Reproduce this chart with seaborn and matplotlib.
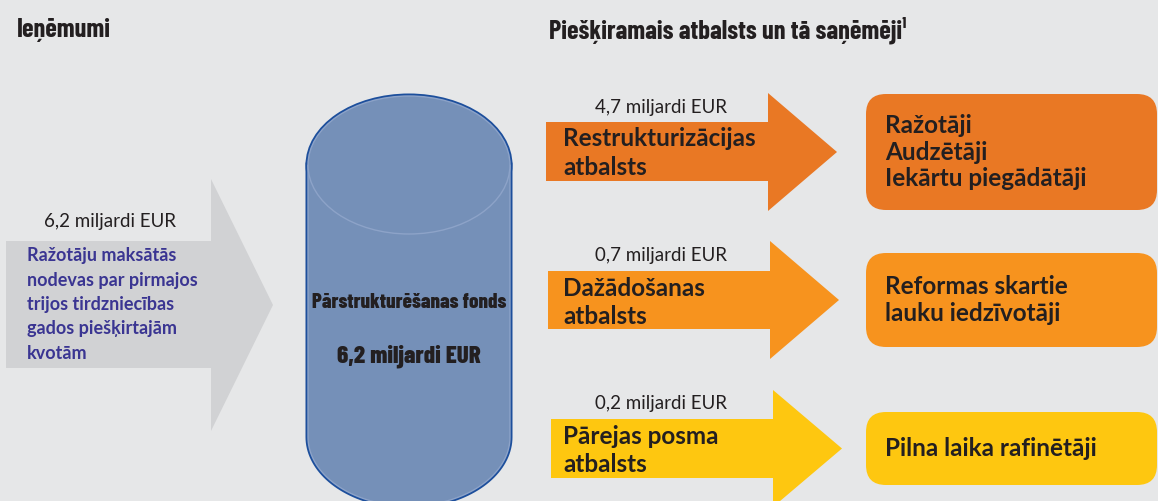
import matplotlib
matplotlib.use("Agg")
import matplotlib.pyplot as plt
import seaborn as sns
import numpy as np
from matplotlib.patches import Polygon, Ellipse, FancyBboxPatch

# Data
income_amount = 6.2
fund_amount = 6.2
income_lines = ["Ražotāju maksātās", "nodevas par pirmajos", "trijos tirdzniecības",
                "gados piešķirtajām", "kvotām"]
support_names = [["Restrukturizācijas", "atbalsts"],
                 ["Dažādošanas", "atbalsts"],
                 ["Pārejas posma", "atbalsts"]]
support_amounts = [4.7, 0.7, 0.2]
recipients = [["Ražotāji", "Audzētāji", "Iekārtu piegādātāji"],
              ["Reformas skartie", "lauku iedzīvotāji"],
              ["Pilna laika rafinētāji"]]
titles = ["Ieņēmumi", "Piešķiramais atbalsts un tā saņēmēji¹"]
fund_name = "Pārstrukturēšanas fonds"


def eur(v):
    return f"{v:.1f}".replace(".", ",") + " miljardi EUR"


bg = "#e6e7e8"
sns.set_theme(style="white", rc={"axes.facecolor": bg, "figure.facecolor": bg})
palette = sns.color_palette(["#e97824", "#f7931e", "#fec710"])
dark = "#231f20"
body_font = ["Lato", "DejaVu Sans"]
cond_font = ["Barlow Condensed", "Lato", "DejaVu Sans"]

fig = plt.figure(figsize=(11.58, 5.01), dpi=100)
ax = fig.add_axes([0, 0, 1, 1])
ax.set_xlim(0, 1158)
ax.set_ylim(501, 0)
ax.axis("off")

# titles
ax.text(17, 30, titles[0], fontsize=19, fontweight="bold", family=cond_font,
        color=dark, va="center", ha="left")
ax.text(549, 30, titles[1], fontsize=19, fontweight="bold", family=cond_font,
        color=dark, va="center", ha="left")

# left grey arrow (income)
ax.add_patch(Polygon([(6, 241), (211, 241), (211, 179), (273, 305), (211, 431),
                      (211, 368), (6, 368)], closed=True, fc="#d1d2d4", ec="none"))
ax.text(110, 222, eur(income_amount), fontsize=13.5, family=body_font, color=dark,
        ha="center", va="center")
for i, line in enumerate(income_lines):
    ax.text(27, 256 + i * 24.3, line, fontsize=13, fontweight="bold",
            family=body_font, color="#3a3592", ha="left", va="center")

# cylinder (fund)
cx, rx, ry, ytop, ybot = 409, 101, 69, 165, 437
t = np.linspace(np.pi, 0, 80)
body = [(cx - rx, ytop)] + list(zip(cx + rx * np.cos(t), ybot + ry * np.sin(t))) + [(cx + rx, ytop)]
for lw, col in [(3.6, "#1d4f9c"), (1.0, "#8da3c8")]:
    ax.add_patch(Polygon(body, closed=True, fc="#7590b8", ec=col, lw=lw, zorder=2))
    ax.add_patch(Ellipse((cx, ytop), 2 * rx, 2 * ry, fc="#7590b8", ec=col, lw=lw, zorder=2))
ax.text(cx, 302, fund_name, fontsize=15, fontweight="heavy",
        family=cond_font, color=dark, ha="center", va="center", zorder=3)
ax.text(cx, 356, eur(fund_amount), fontsize=18, fontweight="heavy",
        family=cond_font, color=dark, ha="center", va="center", zorder=3)

# support arrows + recipient boxes
arrows = [(546, 122, 181, 768, 93, 211, 837),
          (548, 271, 329, 770, 241, 359, 839),
          (551, 419, 478, 773, 390, 507, 842)]
boxes = [(94, 210), (253, 347), (412, 485)]
for k, (x0, bt, bb, hx, ht, hb, tx) in enumerate(arrows):
    mid = (ht + hb) / 2
    ax.add_patch(Polygon([(x0, bt), (hx, bt), (hx, ht), (tx, mid), (hx, hb),
                          (hx, bb), (x0, bb)], closed=True, fc=palette[k], ec="none"))
    ax.text(661, bt - 15, eur(support_amounts[k]), fontsize=13.5, family=body_font,
            color=dark, ha="center", va="center")
    for i, line in enumerate(support_names[k]):
        ax.text(563, bt + 17 + i * 28.5, line, fontsize=17.5, fontweight="bold",
                family=body_font, color=dark, ha="left", va="center")

    top, bottom = boxes[k]
    ax.add_patch(FancyBboxPatch((866, top), 291, bottom - top,
                                boxstyle="round,pad=0,rounding_size=20",
                                fc=palette[k], ec="none"))
    lines = recipients[k]
    yc = (top + bottom) / 2 - (len(lines) - 1) * 26.5 / 2
    for i, line in enumerate(lines):
        ax.text(885, yc + i * 26.5, line, fontsize=17.5, fontweight="bold",
                family=body_font, color=dark, ha="left", va="center")

fig.savefig("out.png", dpi=100, facecolor=bg)
